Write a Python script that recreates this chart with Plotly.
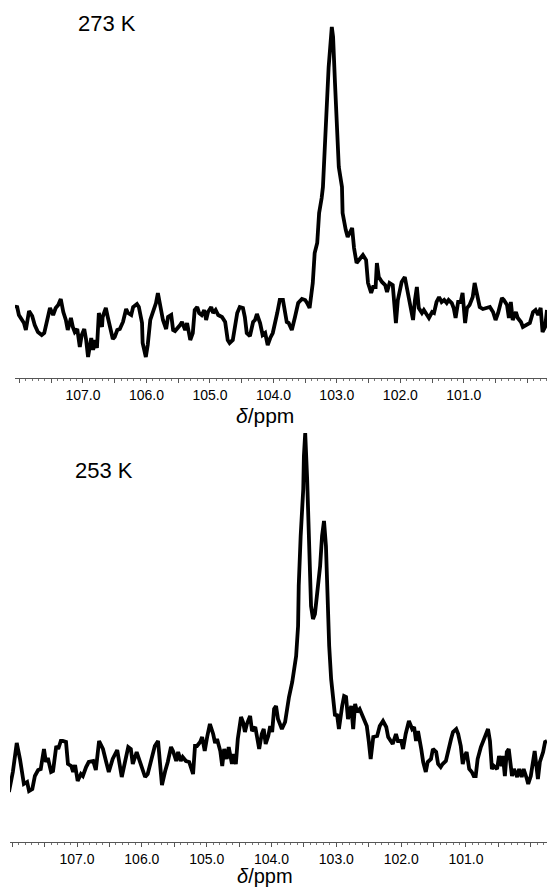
import plotly.graph_objects as go

# 273 K spectrum: chemical shift (ppm) and intensity (arb. units)
ppm_273 = [108.07, 108.04, 108.01, 107.96, 107.93, 107.90, 107.85, 107.80, 107.76, 107.71,
           107.65, 107.61, 107.57, 107.52, 107.47, 107.43, 107.39, 107.35, 107.31, 107.27,
           107.24, 107.19, 107.16, 107.13, 107.09, 107.05, 107.02, 106.98, 106.95, 106.92,
           106.87, 106.84, 106.81, 106.78, 106.75, 106.70, 106.69, 106.64, 106.61, 106.58,
           106.53, 106.50, 106.46, 106.42, 106.37, 106.32, 106.29, 106.24, 106.21, 106.15,
           106.12, 106.07, 106.06, 106.01, 105.98, 105.94, 105.90, 105.85, 105.82, 105.77,
           105.74, 105.69, 105.66, 105.61, 105.58, 105.55, 105.52, 105.47, 105.44, 105.39,
           105.36, 105.31, 105.27, 105.24, 105.20, 105.17, 105.13, 105.09, 105.06, 105.03,
           104.98, 104.95, 104.91, 104.87, 104.81, 104.76, 104.72, 104.69, 104.64, 104.61,
           104.57, 104.53, 104.48, 104.45, 104.42, 104.37, 104.32, 104.29, 104.26, 104.21,
           104.17, 104.13, 104.09, 104.05, 104.01, 103.94, 103.90, 103.85, 103.79, 103.76,
           103.71, 103.66, 103.61, 103.55, 103.50, 103.47, 103.43, 103.38, 103.35, 103.31,
           103.28, 103.24, 103.22, 103.19, 103.16, 103.13, 103.08, 103.06, 103.03, 103.00,
           102.97, 102.92, 102.91, 102.86, 102.83, 102.76, 102.73, 102.69, 102.65, 102.59,
           102.54, 102.51, 102.46, 102.43, 102.39, 102.37, 102.34, 102.29, 102.24, 102.21,
           102.17, 102.12, 102.07, 102.04, 101.98, 101.93, 101.90, 101.85, 101.80, 101.77,
           101.74, 101.71, 101.66, 101.63, 101.58, 101.55, 101.50, 101.47, 101.43, 101.39,
           101.35, 101.31, 101.27, 101.24, 101.19, 101.16, 101.13, 101.09, 101.05, 101.02,
           100.98, 100.95, 100.91, 100.86, 100.83, 100.80, 100.75, 100.70, 100.64, 100.59,
           100.54, 100.50, 100.46, 100.40, 100.37, 100.32, 100.29, 100.26, 100.23, 100.18,
           100.15, 100.10, 100.07, 100.01, 99.96, 99.91, 99.87, 99.83, 99.79, 99.76,
           99.72, 99.69]
int_273 = [70, 72, 63, 57, 55, 48, 67, 62, 53, 46,
           43, 45, 56, 70, 63, 70, 73, 79, 66, 58,
           48, 60, 51, 46, 49, 31, 43, 49, 38, 21,
           40, 28, 38, 30, 65, 51, 61, 70, 61, 53,
           39, 41, 48, 49, 56, 69, 65, 63, 71, 74,
           71, 55, 35, 21, 33, 58, 65, 75, 85, 70,
           58, 49, 61, 63, 48, 47, 49, 53, 56, 48,
           55, 38, 45, 68, 71, 65, 63, 68, 58, 66,
           71, 65, 68, 63, 61, 56, 38, 35, 38, 50,
           65, 71, 70, 61, 45, 42, 56, 58, 64, 55,
           43, 45, 33, 40, 45, 65, 78, 78, 56, 55,
           48, 61, 75, 79, 78, 75, 70, 95, 125, 135,
           165, 180, 191, 231, 271, 311, 351, 341, 295, 245,
           211, 191, 165, 148, 141, 150, 130, 115, 118, 123,
           118, 95, 85, 91, 91, 115, 101, 96, 93, 86,
           95, 93, 55, 78, 96, 101, 91, 75, 58, 78,
           91, 70, 65, 68, 63, 60, 66, 65, 76, 81,
           76, 78, 75, 78, 75, 70, 60, 76, 76, 85,
           55, 70, 73, 81, 95, 85, 71, 69, 70, 71,
           66, 58, 65, 80, 78, 73, 60, 76, 58, 66,
           60, 56, 51, 53, 55, 66, 68, 63, 70, 46,
           51, 68]

# 253 K spectrum
ppm_253 = [108.05, 107.99, 107.93, 107.88, 107.82, 107.77, 107.74, 107.69, 107.65, 107.60,
           107.56, 107.51, 107.48, 107.45, 107.40, 107.37, 107.32, 107.29, 107.25, 107.22,
           107.17, 107.14, 107.09, 107.06, 107.03, 106.99, 106.94, 106.91, 106.86, 106.82,
           106.75, 106.71, 106.66, 106.60, 106.55, 106.51, 106.45, 106.38, 106.31, 106.26,
           106.21, 106.17, 106.14, 106.08, 106.03, 105.95, 105.91, 105.84, 105.80, 105.75,
           105.72, 105.69, 105.64, 105.60, 105.55, 105.52, 105.47, 105.44, 105.40, 105.37,
           105.32, 105.27, 105.21, 105.18, 105.15, 105.10, 105.07, 105.03, 104.99, 104.95,
           104.90, 104.87, 104.84, 104.79, 104.76, 104.73, 104.69, 104.66, 104.61, 104.59,
           104.55, 104.52, 104.47, 104.44, 104.41, 104.38, 104.33, 104.30, 104.25, 104.22,
           104.19, 104.15, 104.12, 104.09, 104.05, 104.02, 103.99, 103.96, 103.93, 103.90,
           103.84, 103.79, 103.76, 103.73, 103.68, 103.65, 103.62, 103.59, 103.58, 103.55,
           103.51, 103.50, 103.48, 103.45, 103.42, 103.39, 103.36, 103.33, 103.30, 103.25,
           103.22, 103.19, 103.16, 103.14, 103.11, 103.08, 103.05, 103.02, 102.99, 102.96,
           102.91, 102.88, 102.85, 102.82, 102.77, 102.74, 102.71, 102.68, 102.64, 102.59,
           102.56, 102.53, 102.50, 102.47, 102.43, 102.40, 102.37, 102.33, 102.28, 102.23,
           102.20, 102.16, 102.13, 102.08, 102.05, 102.00, 101.97, 101.93, 101.88, 101.83,
           101.80, 101.77, 101.74, 101.69, 101.66, 101.62, 101.59, 101.54, 101.51, 101.46,
           101.43, 101.39, 101.36, 101.31, 101.28, 101.23, 101.20, 101.15, 101.12, 101.08,
           101.05, 101.02, 100.99, 100.95, 100.91, 100.88, 100.85, 100.82, 100.77, 100.74,
           100.69, 100.66, 100.63, 100.60, 100.57, 100.52, 100.49, 100.45, 100.43, 100.40,
           100.37, 100.34, 100.29, 100.26, 100.21, 100.18, 100.14, 100.11, 100.06, 100.04,
           100.00, 99.97, 99.94, 99.89, 99.86, 99.81, 99.78, 99.75]
int_253 = [50, 70, 99, 83, 58, 60, 51, 53, 66, 72,
           73, 93, 80, 84, 70, 71, 96, 93, 101, 101,
           100, 78, 76, 70, 77, 61, 68, 66, 75, 80,
           81, 72, 101, 93, 80, 70, 83, 92, 65, 80,
           95, 93, 78, 90, 81, 65, 68, 88, 96, 101,
           80, 57, 71, 80, 95, 91, 81, 90, 81, 85,
           81, 80, 68, 96, 96, 100, 105, 91, 106, 118,
           108, 99, 103, 91, 76, 93, 83, 95, 78, 88,
           78, 103, 125, 120, 110, 118, 126, 111, 115, 103,
           93, 108, 113, 98, 106, 116, 110, 133, 136, 123,
           113, 120, 136, 145, 160, 173, 186, 216, 256, 306,
           353, 386, 409, 363, 286, 236, 223, 228, 246, 276,
           306, 321, 296, 243, 196, 163, 143, 126, 128, 113,
           136, 146, 145, 123, 136, 113, 138, 130, 133, 126,
           121, 116, 101, 83, 105, 106, 106, 116, 121, 115,
           105, 101, 98, 108, 101, 101, 93, 108, 121, 113,
           115, 101, 111, 93, 80, 70, 80, 83, 93, 90,
           78, 75, 78, 81, 91, 103, 110, 113, 108, 96,
           78, 86, 90, 73, 70, 66, 66, 83, 95, 100,
           110, 113, 101, 73, 76, 73, 86, 76, 86, 66,
           90, 93, 66, 73, 65, 73, 65, 73, 63, 58,
           66, 78, 91, 63, 80, 90, 100, 101]

tick_vals = [100.0, 100.5, 101.0, 101.5, 102.0, 102.5, 103.0, 103.5, 104.0, 104.5,
             105.0, 105.5, 106.0, 106.5, 107.0, 107.5, 108.0]
tick_text = ["", "", "101.0", "", "102.0", "", "103.0", "", "104.0", "",
             "105.0", "", "106.0", "", "107.0", "", ""]
panel_labels = ["273 K", "253 K"]
axis_title = "<i>δ</i>/ppm"

FONT = "Arial, 'Liberation Sans', Helvetica, sans-serif"
W, H = 547, 888

fig = go.Figure()
fig.add_trace(go.Scatter(x=ppm_273, y=int_273, mode="lines", xaxis="x", yaxis="y",
                         line=dict(color="#000000", width=3.8), showlegend=False))
fig.add_trace(go.Scatter(x=ppm_253, y=int_253, mode="lines", xaxis="x2", yaxis="y2",
                         line=dict(color="#000000", width=3.8), showlegend=False))

xaxis_common = dict(
    showgrid=False, zeroline=False, showline=True, linecolor="#555555", linewidth=1,
    ticks="outside", ticklen=4, tickwidth=1, tickcolor="#555555",
    tickvals=tick_vals, ticktext=tick_text,
    tickfont=dict(family=FONT, size=14, color="#000000"),
    minor=dict(ticks="outside", tick0=100.0, dtick=0.1, ticklen=2, tickcolor="#777777", tickwidth=1),
    fixedrange=True,
)
yaxis_common = dict(visible=False, showgrid=False, zeroline=False, fixedrange=True)

fig.update_layout(
    width=W, height=H,
    margin=dict(l=0, r=0, t=0, b=0),
    paper_bgcolor="white", plot_bgcolor="white",
    xaxis=dict(domain=[15 / W, 1.0], range=[108.071, 99.69], anchor="y", **xaxis_common),
    yaxis=dict(domain=[1 - 378 / H, 1.0], range=[0, 378], anchor="x", **yaxis_common),
    xaxis2=dict(domain=[10 / W, 1.0], range=[108.034, 99.75], anchor="y2", **xaxis_common),
    yaxis2=dict(domain=[1 - 842 / H, 1 - 429 / H], range=[0, 413], anchor="x2", **yaxis_common),
    annotations=[
        dict(text=panel_labels[0], x=107 / W, y=1 - 23 / H, xref="paper", yref="paper",
             xanchor="center", yanchor="middle", showarrow=False,
             font=dict(family=FONT, size=22, color="#000000")),
        dict(text=panel_labels[1], x=104 / W, y=1 - 470 / H, xref="paper", yref="paper",
             xanchor="center", yanchor="middle", showarrow=False,
             font=dict(family=FONT, size=22, color="#000000")),
        dict(text=axis_title, x=265 / W, y=1 - 415 / H, xref="paper", yref="paper",
             xanchor="center", yanchor="middle", showarrow=False,
             font=dict(family=FONT, size=21, color="#000000")),
        dict(text=axis_title, x=265 / W, y=1 - 876 / H, xref="paper", yref="paper",
             xanchor="center", yanchor="middle", showarrow=False,
             font=dict(family=FONT, size=20, color="#000000")),
    ],
)

fig.write_html("out.html", config={"displayModeBar": False},
               post_script="document.body.style.margin='0';document.body.style.overflow='hidden';")
